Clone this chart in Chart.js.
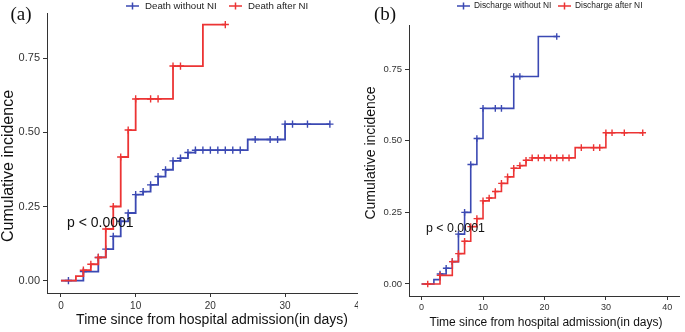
<!DOCTYPE html>
<html>
<head>
<meta charset="utf-8">
<script src="https://cdn.jsdelivr.net/npm/chart.js@4.4.1/dist/chart.umd.min.js"></script>
<style>
  html, body { margin: 0; padding: 0; background: #fff; }
  #wrap { position: relative; width: 685px; height: 332px; overflow: hidden; }
  .panel { position: absolute; top: 0; height: 332px; overflow: hidden; }
  .panel canvas { display: block; }
  #panelA { left: 0; width: 358px; }
  #panelB { left: 360px; width: 325px; }
</style>
</head>
<body>
<div id="wrap">
  <div class="panel" id="panelA"><canvas id="chartA" width="372" height="332"></canvas></div>
  <div class="panel" id="panelB"><canvas id="chartB" width="325" height="332"></canvas></div>
</div>
<script>
// step curves: day of each jump and cumulative incidence after it
// "slow" curve = death without NI in (a), discharge after NI in (b)
const slowDays = [0, 3, 5, 6, 7, 8, 9, 10, 11, 12, 13, 14, 15, 16, 17, 18, 25, 30, 36];
const slowInc = [0, 0.03, 0.078, 0.106, 0.149, 0.2, 0.228, 0.29, 0.3, 0.323, 0.351, 0.374, 0.404, 0.413, 0.432, 0.44, 0.476, 0.528, 0.528];
const slowCensor = [1, 3, 5, 6, 7, 8, 9, 10, 11, 12, 13, 14, 15, 16, 17, 18, 19, 20, 21, 22, 23, 24, 26, 28, 29, 30, 31, 33, 36];

// "fast" curve = death after NI in (a), discharge without NI in (b)
const fastDays = [0, 2, 3, 4, 5, 6, 7, 8, 9, 10, 15, 19, 22];
const fastInc = [0, 0.015, 0.035, 0.055, 0.078, 0.174, 0.25, 0.417, 0.508, 0.613, 0.724, 0.864, 0.864];
const fastCensor = [3, 4, 5, 6, 7, 8, 9, 10, 12, 13, 15, 16, 22];

const labelsA = ["Death without NI", "Death after NI"];
const labelsB = ["Discharge without NI", "Discharge after NI"];
const xTicks = [0, 10, 20, 30, 40];
const yTicks = [0, 0.25, 0.5, 0.75];
const xTitle = "Time since from hospital admission(in days)";
const yTitle = "Cumulative incidence";
const pText = "p < 0.0001";

const BLUE = "#3b49b3";
const RED = "#ec3434";
const SANS = "'Liberation Sans', Arial, sans-serif";

// value of the step curve at day t (for the censor marks)
function stepAt(days, inc, t) {
    let v = 0;
    days.forEach((d, i) => { if (d <= t) v = inc[i]; });
    return v;
}

function curveData(days, inc) {
    return days.map((d, i) => ({ x: d, y: inc[i] }));
}

function censorData(days, inc, censor) {
    return censor.map(t => ({ x: t, y: stepAt(days, inc, t) }));
}

// titles, p value and the legend drawn on the canvas
const panelText = {
    id: "panelText",
    afterDraw(chart, args, o) {
        const ctx = chart.ctx;
        ctx.save();
        ctx.fillStyle = "#111";
        ctx.textBaseline = "middle";

        ctx.font = o.tagFont;
        ctx.textAlign = "center";
        ctx.fillText(o.tag, o.tagX, o.tagY);

        ctx.font = o.xTitleFont;
        ctx.fillText(xTitle, o.xTitleX, o.xTitleY);

        ctx.save();
        ctx.translate(o.yTitleX, o.yTitleY);
        ctx.rotate(-Math.PI / 2);
        ctx.font = o.yTitleFont;
        ctx.fillText(yTitle, 0, 0);
        ctx.restore();

        ctx.font = o.pFont;
        ctx.textAlign = "left";
        ctx.fillText(pText, o.pX, o.pY);

        // legend
        ctx.font = o.legendFont;
        ctx.fillStyle = "#222";
        o.legend.forEach(item => {
            ctx.strokeStyle = item.color;
            ctx.lineWidth = 1.5;
            ctx.beginPath();
            ctx.moveTo(item.x, o.legendY);
            ctx.lineTo(item.x + o.markW, o.legendY);
            ctx.moveTo(item.x + o.markW / 2, o.legendY - 3.5);
            ctx.lineTo(item.x + o.markW / 2, o.legendY + 3.5);
            ctx.stroke();
            ctx.fillText(item.text, item.x + o.markW + o.gap, o.legendY);
        });
        ctx.restore();
    }
};

function buildPanel(canvasId, p) {
    const lineDs = (label, days, inc, color, order) => ({
        label: label,
        data: curveData(days, inc),
        stepped: "before",
        borderColor: color,
        borderWidth: p.lineW,
        pointRadius: 0,
        fill: false,
        order: order
    });
    const markDs = (days, inc, censor, color, order) => ({
        label: "",
        data: censorData(days, inc, censor),
        showLine: false,
        pointStyle: "cross",
        pointRadius: p.markR,
        pointBorderWidth: 1.4,
        borderColor: color,
        backgroundColor: color,
        order: order
    });

    return new Chart(document.getElementById(canvasId), {
        type: "line",
        data: {
            datasets: [
                lineDs(p.blue.label, p.blue.days, p.blue.inc, BLUE, 3),
                markDs(p.blue.days, p.blue.inc, p.blue.censor, BLUE, 2),
                lineDs(p.red.label, p.red.days, p.red.inc, RED, 1),
                markDs(p.red.days, p.red.inc, p.red.censor, RED, 0)
            ]
        },
        options: {
            responsive: false,
            animation: false,
            devicePixelRatio: 1,
            layout: { padding: { left: 0, top: p.top, right: p.right, bottom: 0 } },
            plugins: {
                legend: { display: false },
                tooltip: { enabled: false },
                panelText: p.text
            },
            scales: {
                x: {
                    type: "linear",
                    min: p.xMin,
                    max: p.xMax,
                    afterBuildTicks: s => { s.ticks = xTicks.map(v => ({ value: v })); },
                    afterFit: s => { s.height = p.xAxisH; },
                    grid: { drawOnChartArea: false, tickLength: 4, color: "#333" },
                    border: { color: "#333", width: 1 },
                    ticks: {
                        autoSkip: false, maxRotation: 0, padding: p.xTickPad, color: "#333",
                        font: { family: SANS, size: p.xTickSize },
                        callback: v => v
                    }
                },
                y: {
                    type: "linear",
                    min: p.yMin,
                    max: p.yMax,
                    afterBuildTicks: s => { s.ticks = yTicks.map(v => ({ value: v })); },
                    afterFit: s => { s.width = p.yAxisW; },
                    grid: { drawOnChartArea: false, tickLength: 4, color: "#333" },
                    border: { color: "#333", width: 1 },
                    ticks: {
                        padding: 3, color: "#333",
                        font: { family: SANS, size: p.yTickSize },
                        callback: v => v.toFixed(2)
                    }
                }
            }
        },
        plugins: [panelText]
    });
}

buildPanel("chartA", {
    blue: { label: labelsA[0], days: slowDays, inc: slowInc, censor: slowCensor },
    red: { label: labelsA[1], days: fastDays, inc: fastInc, censor: fastCensor },
    top: 13, right: 8.5, xAxisH: 39, yAxisW: 47,
    xMin: -1.87, xMax: 40.5, yMin: -0.042, yMax: 0.903,
    xTickSize: 10, yTickSize: 11, xTickPad: 3,
    lineW: 1.8, markR: 3.6,
    text: {
        tag: "(a)", tagFont: "19px 'Liberation Serif', serif", tagX: 21, tagY: 15,
        xTitleFont: "14px " + SANS, xTitleX: 212, xTitleY: 320,
        yTitleFont: "16px " + SANS, yTitleX: 9, yTitleY: 166,
        pFont: "14px " + SANS, pX: 67, pY: 223,
        legendFont: "9.7px " + SANS, legendY: 6, markW: 13, gap: 6,
        legend: [
            { text: labelsA[0], color: BLUE, x: 126 },
            { text: labelsA[1], color: RED, x: 229 }
        ]
    }
});

buildPanel("chartB", {
    blue: { label: labelsB[0], days: fastDays, inc: fastInc, censor: fastCensor },
    red: { label: labelsB[1], days: slowDays, inc: slowInc, censor: slowCensor },
    top: 25, right: 2.3, xAxisH: 36, yAxisW: 49,
    xMin: -2.05, xMax: 42.0, yMin: -0.042, yMax: 0.904,
    xTickSize: 9, yTickSize: 9.5, xTickPad: 2,
    lineW: 1.6, markR: 3.3,
    text: {
        tag: "(b)", tagFont: "19px 'Liberation Serif', serif", tagX: 25, tagY: 15,
        xTitleFont: "12px " + SANS, xTitleX: 186, xTitleY: 323,
        yTitleFont: "14px " + SANS, yTitleX: 11.5, yTitleY: 153,
        pFont: "12.4px " + SANS, pX: 66, pY: 229,
        legendFont: "8.4px " + SANS, legendY: 6, markW: 13, gap: 4,
        legend: [
            { text: labelsB[0], color: BLUE, x: 97 },
            { text: labelsB[1], color: RED, x: 198 }
        ]
    }
});
</script>
</body>
</html>
